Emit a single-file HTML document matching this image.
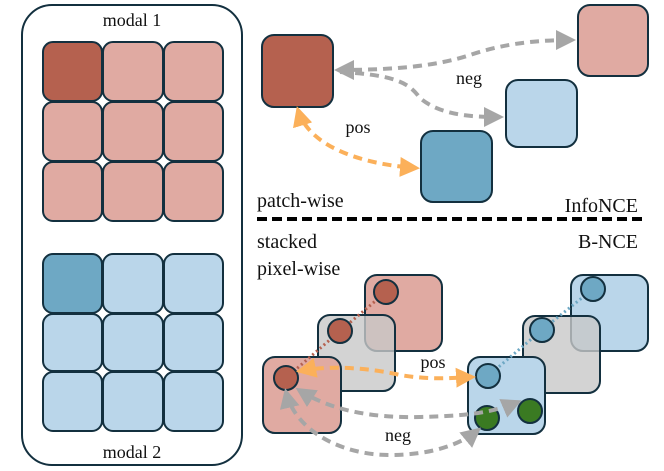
<!DOCTYPE html>
<html><head><meta charset="utf-8"><style>body{margin:0;background:#fff}svg{display:block}text{font-family:"Liberation Serif",serif;fill:#111}</style></head><body>
<svg width="664" height="471" viewBox="0 0 664 471" xmlns="http://www.w3.org/2000/svg">
<defs>
<marker id="ao" viewBox="0 0 10 10" refX="8" refY="5" markerWidth="5" markerHeight="5" orient="auto-start-reverse"><path d="M0,0L10,5L0,10z" fill="#fbb05a"/></marker>
<marker id="ag" viewBox="0 0 10 10" refX="8" refY="5" markerWidth="5" markerHeight="5" orient="auto-start-reverse"><path d="M0,0L10,5L0,10z" fill="#a6a6a6"/></marker>
</defs>
<g stroke="#13303f" stroke-width="2">
<rect x="22" y="5" width="220" height="460" rx="30" fill="#fff"/>
<g fill="#e0aaa2">
<rect x="43" y="42" width="59" height="59" rx="10" fill="#b5614f"/><rect x="103" y="42" width="60" height="59" rx="10"/><rect x="164" y="42" width="59" height="59" rx="10"/>
<rect x="43" y="102" width="59" height="59" rx="10"/><rect x="103" y="102" width="60" height="59" rx="10"/><rect x="164" y="102" width="59" height="59" rx="10"/>
<rect x="43" y="162" width="59" height="59" rx="10"/><rect x="103" y="162" width="60" height="59" rx="10"/><rect x="164" y="162" width="59" height="59" rx="10"/>
</g>
<g fill="#bad6ea">
<rect x="43" y="254" width="59" height="59" rx="10" fill="#6ea8c4"/><rect x="103" y="254" width="60" height="59" rx="10"/><rect x="164" y="254" width="59" height="59" rx="10"/>
<rect x="43" y="314" width="59" height="57" rx="10"/><rect x="103" y="314" width="60" height="57" rx="10"/><rect x="164" y="314" width="59" height="57" rx="10"/>
<rect x="43" y="372" width="59" height="59" rx="10"/><rect x="103" y="372" width="60" height="59" rx="10"/><rect x="164" y="372" width="59" height="59" rx="10"/>
</g>
<rect x="262" y="35" width="71" height="72" rx="12" fill="#b5614f"/>
<rect x="578" y="5" width="70" height="71" rx="12" fill="#e0aaa2"/>
<rect x="506" y="80" width="71" height="67" rx="12" fill="#bad6ea"/>
<rect x="421" y="131" width="71" height="71" rx="12" fill="#6ea8c4"/>
</g>
<text x="132" y="26" font-size="18" text-anchor="middle">modal 1</text>
<text x="132" y="458" font-size="18" text-anchor="middle">modal 2</text>
<g fill="none" stroke-width="4" stroke-dasharray="9,6">
<path d="M338,70 C400,70 440,65 470,55 C500,45 530,40 572,40" stroke="#a6a6a6" marker-end="url(#ag)" marker-start="url(#ag)"/>
<path d="M340,72 C400,75 410,85 420,98 C440,115 470,117 500,117" stroke="#a6a6a6" marker-end="url(#ag)"/>
<path d="M298,110 C310,150 370,165 416,168" stroke="#fbb05a" marker-end="url(#ao)" marker-start="url(#ao)"/>
</g>
<text x="469" y="84" font-size="18" text-anchor="middle">neg</text>
<text x="358" y="133" font-size="18" text-anchor="middle">pos</text>
<text x="257" y="207" font-size="20">patch-wise</text>
<text x="638" y="212" font-size="20" text-anchor="end">InfoNCE</text>
<line x1="257" y1="219" x2="645" y2="219" stroke="#000" stroke-width="4" stroke-dasharray="10,5"/>
<text x="638" y="248" font-size="20" text-anchor="end">B-NCE</text>
<text x="257" y="248" font-size="20">stacked</text>
<text x="257" y="275" font-size="20">pixel-wise</text>
<g stroke="#13303f" stroke-width="2">
<rect x="365" y="275" width="77" height="76" rx="12" fill="#e0aaa2"/>
<rect x="318" y="315" width="77" height="76" rx="12" fill="#c8c8c8" fill-opacity="0.8"/>
<rect x="263" y="357" width="78" height="76" rx="12" fill="#e0aaa2"/>
<rect x="571" y="275" width="77" height="76" rx="12" fill="#bad6ea"/>
<rect x="523" y="316" width="77" height="77" rx="12" fill="#c8c8c8" fill-opacity="0.8"/>
<rect x="468" y="357" width="77" height="77" rx="12" fill="#bad6ea"/>
</g>
<path d="M386,292 L340,331 L286,378" stroke="#b5614f" stroke-width="3" stroke-dasharray="2,3" fill="none"/>
<path d="M593,289 L542,330 L488,376" stroke="#6ea8c4" stroke-width="3" stroke-dasharray="2,3" fill="none"/>
<g stroke="#13303f" stroke-width="2">
<circle cx="386" cy="292" r="12" fill="#b5614f"/><circle cx="340" cy="331" r="12" fill="#b5614f"/><circle cx="286" cy="378" r="12" fill="#b5614f"/>
<circle cx="593" cy="289" r="12" fill="#6ea8c4"/><circle cx="542" cy="330" r="12" fill="#6ea8c4"/><circle cx="488" cy="376" r="12" fill="#6ea8c4"/>
<circle cx="487" cy="418" r="12" fill="#3a7a22"/><circle cx="530" cy="411" r="12" fill="#3a7a22"/>
</g>
<g fill="none" stroke-width="4" stroke-dasharray="9,6">
<path d="M300,371 C330,365 370,368 400,375 C430,380 450,378 472,377" stroke="#fbb05a" marker-end="url(#ao)" marker-start="url(#ao)"/>
<path d="M299,390 C330,410 370,418 420,417 C460,416 490,414 518,402" stroke="#a6a6a6" marker-end="url(#ag)" marker-start="url(#ag)"/>
<path d="M286,392 C295,430 340,455 390,455 C430,455 460,445 478,430" stroke="#a6a6a6" marker-end="url(#ag)" marker-start="url(#ag)"/>
</g>
<text x="433" y="368" font-size="18" text-anchor="middle">pos</text>
<text x="398" y="441" font-size="18" text-anchor="middle">neg</text>
</svg>
</body></html>
